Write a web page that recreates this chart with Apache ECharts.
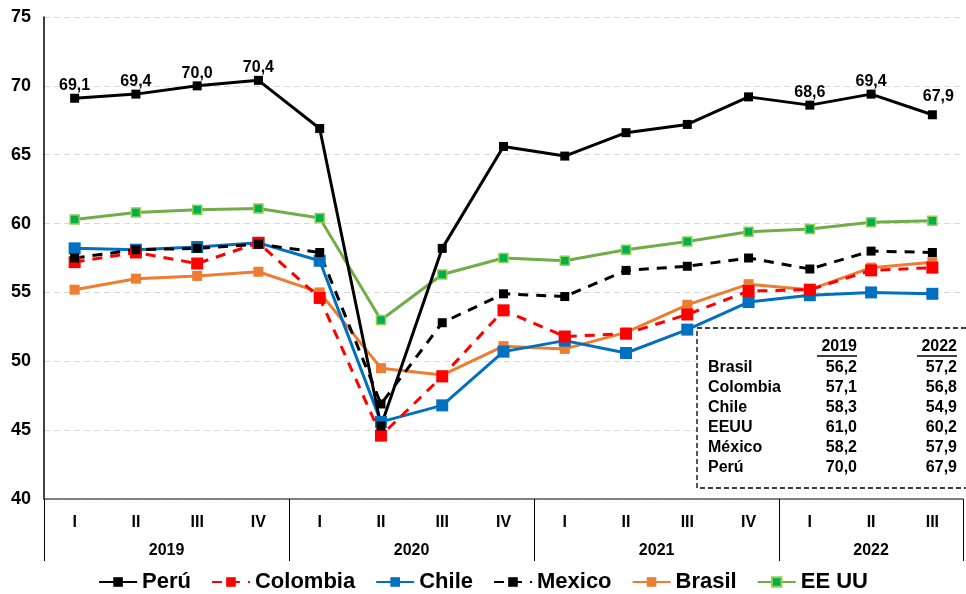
<!DOCTYPE html>
<html>
<head>
<meta charset="utf-8">
<script src="https://cdn.jsdelivr.net/npm/echarts@6/dist/echarts.min.js"></script>
<style>
  html, body { margin: 0; padding: 0; background: #fff; }
  #chart { width: 966px; height: 594px; }
</style>
</head>
<body>
<div id="chart"></div>
<script>
// quarters and years
const quarters = ['I', 'II', 'III', 'IV', 'I', 'II', 'III', 'IV', 'I', 'II', 'III', 'IV', 'I', 'II', 'III'];
const years = ['2019', '2020', '2021', '2022'];
const yearCenters = [2, 6, 10, 13.5];
const yearBounds = [0, 4, 8, 12, 15];

// series values
const peru     = [69.1, 69.4, 70.0, 70.4, 66.9, 45.3, 58.2, 65.6, 64.9, 66.6, 67.2, 69.2, 68.6, 69.4, 67.9];
const colombia = [57.2, 57.9, 57.1, 58.6, 54.6, 44.6, 48.9, 53.7, 51.8, 52.0, 53.4, 55.1, 55.2, 56.6, 56.8];
const chile    = [58.2, 58.1, 58.3, 58.6, 57.3, 45.6, 46.8, 50.7, 51.5, 50.6, 52.3, 54.3, 54.8, 55.0, 54.9];
const mexico   = [57.5, 58.1, 58.2, 58.5, 57.9, 46.9, 52.8, 54.9, 54.7, 56.6, 56.9, 57.5, 56.7, 58.0, 57.9];
const brasil   = [55.2, 56.0, 56.2, 56.5, 55.0, 49.5, 49.0, 51.1, 50.9, 52.1, 54.1, 55.6, 55.2, 56.8, 57.2];
const eeuu     = [60.3, 60.8, 61.0, 61.1, 60.4, 53.0, 56.3, 57.5, 57.3, 58.1, 58.7, 59.4, 59.6, 60.1, 60.2];

// peru points that carry a label
const peruLabelIdx = [0, 1, 2, 3, 12, 13, 14];

// summary table
const tableNames = ['Brasil', 'Colombia', 'Chile', 'EEUU', 'México', 'Perú'];
const table2019 = [56.2, 57.1, 58.3, 61.0, 58.2, 70.0];
const table2022 = [57.2, 56.8, 54.9, 60.2, 57.9, 67.9];

const fmt = v => v.toFixed(1).replace('.', ',');
const FONT = '"Liberation Sans", Arial, sans-serif';

const chart = echarts.init(document.getElementById('chart'));

function lineSeries(name, data, color, opts) {
  return Object.assign({
    name: name,
    type: 'line',
    data: data,
    symbol: 'rect',
    symbolSize: 8,
    lineStyle: { color: color, width: 3 },
    itemStyle: { color: color },
    animation: false
  }, opts || {});
}

// table graphics
const tg = [];
tg.push({
  type: 'rect', shape: { x: 697, y: 328, width: 280, height: 160 },
  style: { fill: '#fff', stroke: '#000', lineWidth: 1.3, lineDash: [5, 3] }, z: 100
});
[['2019', 857], ['2022', 957]].forEach(([t, x]) => {
  tg.push({ type: 'text', x: x, y: 347, z: 101,
    style: { text: t, font: 'bold 16px ' + FONT, fill: '#000', align: 'right', verticalAlign: 'middle' } });
  tg.push({ type: 'line', z: 101, shape: { x1: x - 40, y1: 356, x2: x, y2: 356 },
    style: { stroke: '#000', lineWidth: 1.5 } });
});
tableNames.forEach((n, i) => {
  const y = 368 + i * 20;
  tg.push({ type: 'text', x: 708, y: y, z: 101,
    style: { text: n, font: 'bold 16px ' + FONT, fill: '#000', align: 'left', verticalAlign: 'middle' } });
  tg.push({ type: 'text', x: 857, y: y, z: 101,
    style: { text: fmt(table2019[i]), font: 'bold 16px ' + FONT, fill: '#000', align: 'right', verticalAlign: 'middle' } });
  tg.push({ type: 'text', x: 957, y: y, z: 101,
    style: { text: fmt(table2022[i]), font: 'bold 16px ' + FONT, fill: '#000', align: 'right', verticalAlign: 'middle' } });
});

const option = {
  backgroundColor: '#fff',
  textStyle: { fontFamily: FONT },
  grid: { left: 44, right: 3, top: 17, bottom: 95 },
  legend: {
    top: 566,
    left: 'center',
    itemWidth: 38,
    itemHeight: 12,
    itemGap: 20,
    textStyle: { fontSize: 22, fontWeight: 'bold', color: '#000', fontFamily: FONT },
    data: ['Perú', 'Colombia', 'Chile', 'Mexico', 'Brasil', 'EE UU']
  },
  xAxis: [
    {
      type: 'category',
      data: quarters,
      boundaryGap: true,
      axisLine: { lineStyle: { color: '#595959', width: 1.5 } },
      axisTick: { show: false },
      axisLabel: { color: '#000', fontSize: 16, fontWeight: 'bold', margin: 16, interval: 0 },
      splitLine: { show: false }
    },
    {
      type: 'value',
      min: 0,
      max: 15,
      position: 'bottom',
      axisLine: { show: false },
      axisTick: { show: true, length: 62, customValues: yearBounds, lineStyle: { color: '#000', width: 1 } },
      axisLabel: {
        customValues: yearCenters,
        color: '#000', fontSize: 16, fontWeight: 'bold', margin: 44,
        formatter: v => years[yearCenters.indexOf(v)]
      },
      splitLine: { show: false }
    }
  ],
  yAxis: {
    type: 'value',
    min: 40,
    max: 75,
    interval: 5,
    axisLine: { show: true, lineStyle: { color: '#000', width: 1.5 } },
    axisTick: { show: false },
    axisLabel: { color: '#000', fontSize: 18, fontWeight: 'bold', margin: 13 },
    splitLine: { lineStyle: { color: '#d9d9d9', type: [6, 4], width: 1.2 } }
  },
  series: [
    lineSeries('Brasil', brasil, '#ed7d31', { symbolSize: 10 }),
    lineSeries('EE UU', eeuu, '#70ad47', {
      symbolSize: 9,
      itemStyle: { color: '#00b050', borderColor: '#92d050', borderWidth: 1.5 }
    }),
    lineSeries('Chile', chile, '#0070c0', { symbolSize: 12 }),
    lineSeries('Colombia', colombia, '#ff0000', {
      symbolSize: 12,
      lineStyle: { color: '#ff0000', width: 3, type: [10, 8] }
    }),
    lineSeries('Mexico', mexico, '#000000', {
      symbolSize: 9,
      lineStyle: { color: '#000', width: 3, type: [10, 8] }
    }),
    lineSeries('Perú', peru.map((v, i) => ({
      value: v,
      label: peruLabelIdx.indexOf(i) >= 0 ? {
        show: true,
        offset: i === 14 ? [6, -6] : [0, 0]
      } : { show: false }
    })), '#000000', {
      symbolSize: 9,
      label: {
        position: 'top',
        distance: 0,
        color: '#000',
        fontSize: 16,
        fontWeight: 'bold',
        formatter: p => fmt(p.value)
      }
    })
  ],
  graphic: tg
};

chart.setOption(option);
</script>
</body>
</html>
